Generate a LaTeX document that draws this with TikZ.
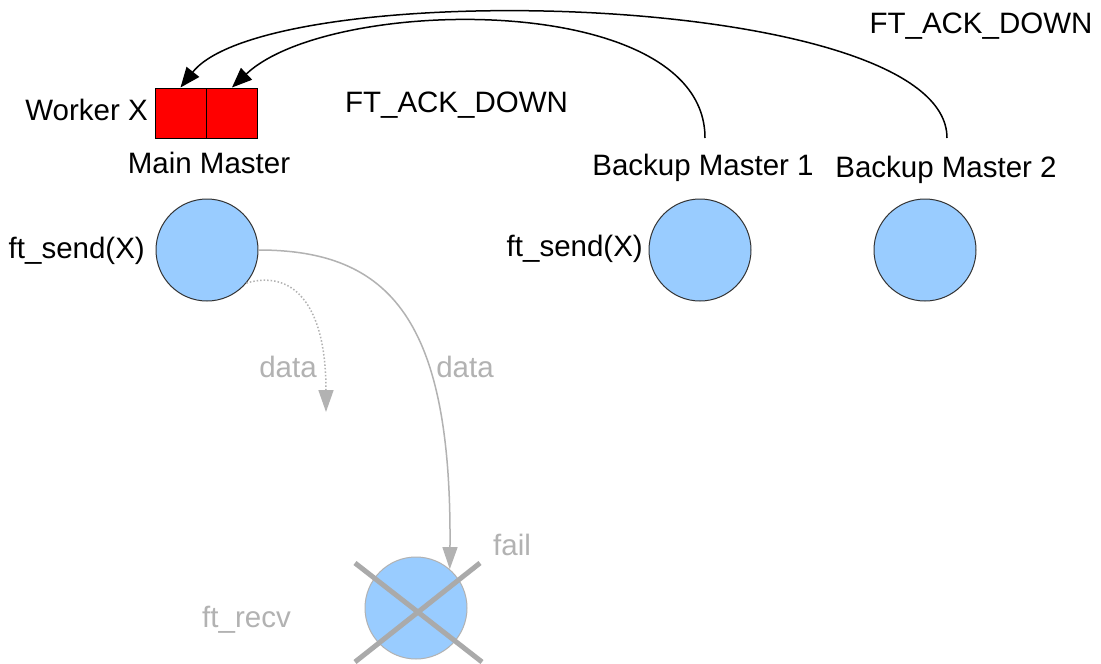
\documentclass[tikz,border=0pt]{standalone}
\usepackage{fontspec}
\setmainfont{Liberation Sans}
\usetikzlibrary{arrows.meta}
\definecolor{circblue}{RGB}{153,204,255}
\definecolor{lgray}{RGB}{178,178,178}
\definecolor{cross}{RGB}{170,170,170}
\tikzset{
  lbl/.style={inner sep=0pt, font=\fontsize{29.5}{35}\selectfont},
  glbl/.style={lbl, text=lgray},
  proc/.style={circle, draw=black!80, fill=circblue, line width=1pt, minimum size=102pt, inner sep=0pt},
  deadproc/.style={circle, draw=lgray, fill=circblue, line width=1pt, minimum size=102pt, inner sep=0pt},
  slot/.style={rectangle, draw=black, fill=red, line width=1pt, minimum width=51pt, minimum height=50pt, inner sep=0pt},
  ack/.style={draw=black, line width=1.5pt, -{Triangle[length=20pt,width=16pt]}},
  dataflow/.style={draw=lgray, line width=1.5pt, -{Triangle[length=22pt,width=15pt]}},
  crossline/.style={draw=cross, line width=5pt}
}
\begin{document}
\begin{tikzpicture}[x=1pt,y=-1pt]
\useasboundingbox[fill=white] (0,0) rectangle (1101,664);

% worker slots
\node[slot] (s1) at (180.5,113) {};
\node[slot] (s2) at (232,113) {};
\node[lbl, anchor=base east] (wx) at (148,120.5) {Worker X};

% masters
\node[lbl, anchor=base] (mmlbl) at (209,173.5) {Main Master};
\node[proc] (mm) at (207,250) {};
\node[lbl, anchor=base east] (fs1) at (145,258) {ft\_send(X)};

\node[lbl, anchor=base] (b1lbl) at (703,175.5) {Backup Master 1};
\node[proc] (b1) at (700,250) {};
\node[lbl, anchor=base east] (fs2) at (643,256) {ft\_send(X)};

\node[lbl, anchor=base] (b2lbl) at (946,177.5) {Backup Master 2};
\node[proc] (b2) at (925,250) {};

% ack labels
\node[lbl, anchor=base] (ack1) at (981,33.5) {FT\_ACK\_DOWN};
\node[lbl, anchor=base] (ack2) at (456.5,112.5) {FT\_ACK\_DOWN};

% ack connectors
\coordinate (b1top) at (705,138);
\coordinate (b2top) at (947,138);
\draw[ack] (b2top) .. controls (947,-10) and (270,-25) .. (s1.north);
\draw[ack] (b1top) .. controls (705,-10) and (330,-5) .. (s2.north);

% failed receiver
\node[deadproc] (rv) at (416,608) {};
\draw[crossline] (355,563) -- (482,662);
\draw[crossline] (480,563) -- (355,662);
\node[glbl, anchor=base] (recv) at (246.5,627) {ft\_recv};
\node[glbl, anchor=base west] (fail) at (493,555) {fail};

% data flows
\coordinate (lost) at (326,412);
\draw[dataflow, dotted] (mm.-40) .. controls (290,270) and (326,300) .. (lost);
\draw[dataflow] (mm.east) .. controls (390,250) and (452,320) .. (rv.49);
\node[glbl, anchor=base] (d1) at (288,377) {data};
\node[glbl, anchor=base] (d2) at (465,377) {data};
\end{tikzpicture}
\end{document}
